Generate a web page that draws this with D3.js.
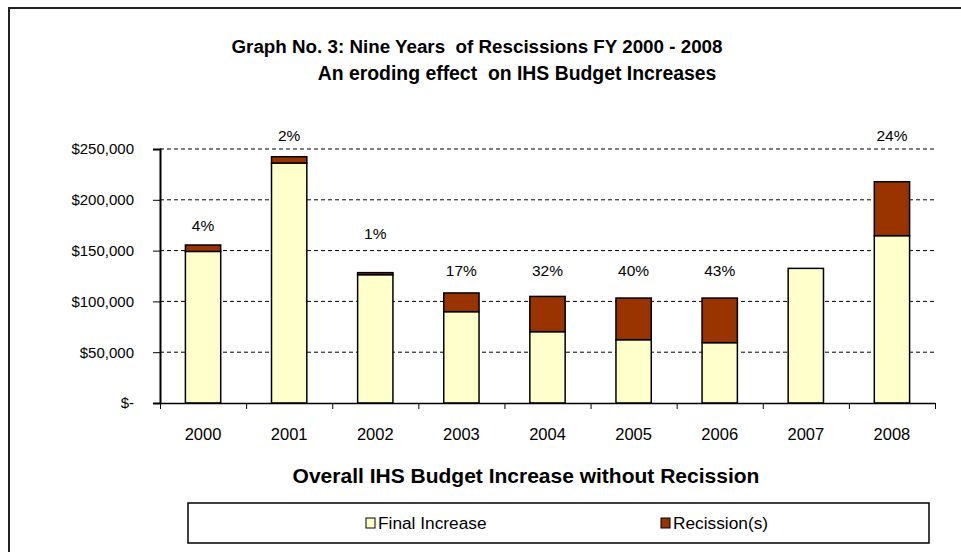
<!DOCTYPE html>
<html>
<head>
<meta charset="utf-8">
<script src="https://cdnjs.cloudflare.com/ajax/libs/d3/7.8.5/d3.min.js"></script>
<style>
  body { margin: 0; background: #fff; }
  text { font-family: Arial, "Liberation Sans", sans-serif; fill: #000; }
</style>
</head>
<body>
<script>
// chart data
const years = ["2000", "2001", "2002", "2003", "2004", "2005", "2006", "2007", "2008"];
const finalIncrease = [149200, 236200, 126300, 89900, 70200, 62300, 59400, 132500, 164700];
const recissions = [6300, 6200, 2000, 18400, 34700, 41000, 43900, 0, 53100];
const pctLabels = ["4%", "2%", "1%", "17%", "32%", "40%", "43%", "", "24%"];
// hidden label series (dollar level where each % label sits)
const labelLevel = [174500, 263100, 166600, 130200, 130200, 130200, 130200, 0, 263100];
const yTicks = [0, 50000, 100000, 150000, 200000, 250000];
const seriesNames = ["Final Increase", "Recission(s)"];

const svgWidth = 961;
const svgHeight = 552;
const margin = { top: 149, right: 26, bottom: 149, left: 160 };
const width = svgWidth - margin.left - margin.right;
const height = svgHeight - margin.top - margin.bottom;

const colors = { final: "#FFFFCC", rec: "#993300" };

const svg = d3.select("body")
  .append("svg")
  .attr("width", svgWidth)
  .attr("height", svgHeight);

// outer chart border (runs off the right / bottom edge)
svg.append("rect")
  .attr("x", 9).attr("y", 8)
  .attr("width", 970).attr("height", 570)
  .attr("fill", "none")
  .attr("stroke", "#222")
  .attr("stroke-width", 2);

svg.append("text")
  .attr("x", 477).attr("y", 53)
  .attr("text-anchor", "middle")
  .style("font-size", "18.8px")
  .style("font-weight", "bold")
  .style("white-space", "pre")
  .text("Graph No. 3: Nine Years  of Rescissions FY 2000 - 2008");

svg.append("text")
  .attr("x", 517).attr("y", 80)
  .attr("text-anchor", "middle")
  .style("font-size", "19.4px")
  .style("font-weight", "bold")
  .style("white-space", "pre")
  .text("An eroding effect  on IHS Budget Increases");

const g = svg.append("g")
  .attr("transform", `translate(${margin.left},${margin.top})`);

const xScale = d3.scaleBand()
  .domain(years)
  .range([0, width])
  .paddingInner(0.59)
  .paddingOuter(0.295);

const xEdge = d3.scaleLinear()
  .domain([0, years.length])
  .range([0, width]);

const yScale = d3.scaleLinear()
  .domain([0, 250000])
  .range([height, 0]);

// dashed gridlines
g.selectAll(".grid")
  .data(yTicks.filter(d => d > 0))
  .enter().append("line")
  .attr("x1", 0).attr("x2", width)
  .attr("y1", d => yScale(d)).attr("y2", d => yScale(d))
  .attr("stroke", "#000")
  .attr("stroke-width", 1)
  .attr("stroke-dasharray", "4,3");

const stacked = years.map((y, i) => ({ year: y, fin: finalIncrease[i], rec: recissions[i], pct: pctLabels[i], lvl: labelLevel[i] }));

g.selectAll(".bar-final")
  .data(stacked)
  .enter().append("rect")
  .attr("x", d => xScale(d.year))
  .attr("y", d => yScale(d.fin))
  .attr("width", xScale.bandwidth())
  .attr("height", d => yScale(0) - yScale(d.fin))
  .attr("fill", colors.final)
  .attr("stroke", "#000")
  .attr("stroke-width", 1.5);

g.selectAll(".bar-rec")
  .data(stacked.filter(d => d.rec > 0))
  .enter().append("rect")
  .attr("x", d => xScale(d.year))
  .attr("y", d => yScale(d.fin + d.rec))
  .attr("width", xScale.bandwidth())
  .attr("height", d => yScale(d.fin) - yScale(d.fin + d.rec))
  .attr("fill", colors.rec)
  .attr("stroke", "#000")
  .attr("stroke-width", 1.5);

g.selectAll(".pct")
  .data(stacked.filter(d => d.pct))
  .enter().append("text")
  .attr("x", d => xScale(d.year) + xScale.bandwidth() / 2)
  .attr("y", d => yScale(d.lvl))
  .attr("dy", "0.35em")
  .attr("text-anchor", "middle")
  .style("font-size", "15.5px")
  .text(d => d.pct);

// y axis
const yAxis = g.append("g")
  .call(d3.axisLeft(yScale)
    .tickValues(yTicks)
    .tickSize(7)
    .tickPadding(19)
    .tickFormat(d => d === 0 ? "$-" : "$" + d3.format(",")(d)));
yAxis.select(".domain").attr("stroke", "#000").attr("stroke-width", 2);
yAxis.selectAll(".tick line").attr("stroke", "#000");
yAxis.selectAll("text").style("font-size", "15px").attr("fill", "#000");

// x axis: ticks at category boundaries, labels centered
const xTickAxis = g.append("g")
  .attr("transform", `translate(0,${height})`)
  .call(d3.axisBottom(xEdge).ticks(years.length).tickSize(6).tickFormat("").tickSizeOuter(0));
xTickAxis.select(".domain").attr("stroke", "#000").attr("stroke-width", 1.5);
xTickAxis.selectAll(".tick line").attr("stroke", "#000");

const xLabelAxis = g.append("g")
  .attr("transform", `translate(0,${height})`)
  .call(d3.axisBottom(xScale).tickSize(0).tickPadding(25));
xLabelAxis.select(".domain").remove();
xLabelAxis.selectAll("text").style("font-size", "16.5px").attr("fill", "#000");

svg.append("text")
  .attr("x", 526).attr("y", 483)
  .attr("text-anchor", "middle")
  .style("font-size", "21px")
  .style("font-weight", "bold")
  .text("Overall IHS Budget Increase without Recission");

// legend
const legend = svg.append("g");
legend.append("rect")
  .attr("x", 188).attr("y", 503)
  .attr("width", 741).attr("height", 40)
  .attr("fill", "#fff")
  .attr("stroke", "#000")
  .attr("stroke-width", 1.5);

const legendItems = legend.selectAll(".item")
  .data(seriesNames)
  .enter().append("g")
  .attr("transform", (d, i) => `translate(${i === 0 ? 366 : 661},523)`);

legendItems.append("rect")
  .attr("x", 0).attr("y", -5)
  .attr("width", 9).attr("height", 10)
  .attr("fill", (d, i) => i === 0 ? colors.final : colors.rec)
  .attr("stroke", "#000");

legendItems.append("text")
  .attr("x", 12).attr("y", 0)
  .attr("dy", "0.35em")
  .style("font-size", "17.3px")
  .text(d => d);
</script>
</body>
</html>
